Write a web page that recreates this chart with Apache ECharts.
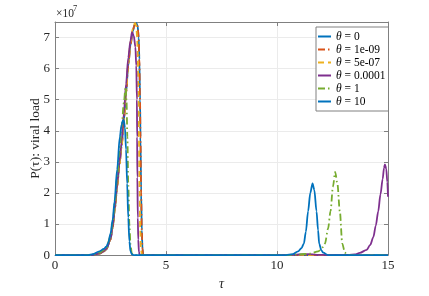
<!DOCTYPE html>
<html><head><meta charset="utf-8">
<script src="https://cdn.jsdelivr.net/npm/echarts@6/dist/echarts.min.js"></script>
<style>html,body{margin:0;padding:0;background:#fff}#c{width:429px;height:296px}</style>
</head><body><div id="c"></div>
<script>
// values in units of 1e7
const SCALE = 1e7;
const xTicks = [0, 5, 10, 15];
const yTickLabels = [0, 1, 2, 3, 4, 5, 6, 7];
const seriesNames = ['θ = 0', 'θ = 1e-09', 'θ = 5e-07', 'θ = 0.0001', 'θ = 1', 'θ = 10'];
const seriesColors = ['#0072BD', '#D95319', '#EDB120', '#7E2F8E', '#77AC30', '#0072BD'];

const theta0 = [[0,0],[1.5,0],[1.8,0.02],[2.0,0.05],[2.2,0.12],[2.31,0.18],[2.5,0.5],[2.6,0.9],[2.7,1.5],[2.8,2.2],[2.9,2.9],[3.0,3.5],[3.1,4.3],[3.2,5.2],[3.3,6.1],[3.4,6.75],[3.5,7.2],[3.58,7.4],[3.66,7.47],[3.72,7.38],[3.77,7.0],[3.80,6.3],[3.83,5.0],[3.85,3.8],[3.88,2.0],[3.91,0.8],[3.94,0.2],[3.97,0.03],[4.0,0],[15,0]];
const theta1em9 = [[0,0],[1.5,0],[1.8,0.02],[2.0,0.05],[2.2,0.12],[2.31,0.18],[2.5,0.5],[2.6,0.9],[2.7,1.5],[2.8,2.2],[2.9,2.9],[3.0,3.5],[3.1,4.3],[3.2,5.2],[3.3,6.1],[3.4,6.75],[3.5,7.2],[3.58,7.4],[3.66,7.47],[3.72,7.38],[3.77,7.0],[3.80,6.3],[3.83,5.0],[3.85,3.8],[3.88,2.0],[3.91,0.8],[3.94,0.2],[3.97,0.03],[4.0,0],[15,0]];
const theta5em7 = [[0,0],[1.5,0],[1.8,0.02],[2.0,0.05],[2.2,0.12],[2.31,0.18],[2.5,0.5],[2.6,0.9],[2.7,1.5],[2.8,2.2],[2.9,2.9],[3.0,3.5],[3.1,4.3],[3.2,5.25],[3.3,6.15],[3.4,6.85],[3.5,7.28],[3.57,7.43],[3.61,7.46],[3.66,7.38],[3.70,7.0],[3.73,6.3],[3.76,5.0],[3.78,3.8],[3.81,2.0],[3.84,0.8],[3.87,0.2],[3.91,0.03],[3.95,0],[15,0]];
const theta1em4 = [[0,0],[1.5,0],[1.8,0.02],[2.0,0.06],[2.2,0.14],[2.31,0.2],[2.5,0.52],[2.6,0.95],[2.7,1.6],[2.8,2.3],[2.9,3.0],[3.0,3.65],[3.1,4.55],[3.2,5.5],[3.3,6.35],[3.4,6.9],[3.47,7.17],[3.55,7.05],[3.62,6.7],[3.66,6.1],[3.69,5.0],[3.70,3.8],[3.71,2.5],[3.73,1.2],[3.75,0.5],[3.78,0.1],[3.82,0],[10.5,0],[11.0,0.02],[11.4,0.03],[11.8,0.01],[12.3,0],[13.0,0],[13.5,0.02],[13.73,0.07],[14.04,0.17],[14.2,0.33],[14.34,0.58],[14.45,0.95],[14.56,1.41],[14.66,1.95],[14.76,2.45],[14.82,2.8],[14.86,2.92],[14.92,2.78],[14.97,2.35],[15.0,1.88]];
const theta1 = [[0,0],[1.5,0],[1.8,0.02],[2.0,0.08],[2.2,0.17],[2.31,0.23],[2.5,0.6],[2.6,1.05],[2.7,1.7],[2.8,2.5],[2.9,3.3],[3.0,4.1],[3.1,4.9],[3.18,5.41],[3.22,5.0],[3.26,3.8],[3.3,2.3],[3.35,1.0],[3.4,0.35],[3.46,0.05],[3.55,0],[10.5,0],[11.0,0.02],[11.5,0.05],[11.86,0.12],[12.05,0.25],[12.16,0.37],[12.3,0.85],[12.41,1.41],[12.52,2.2],[12.62,2.68],[12.72,2.3],[12.83,1.41],[12.94,0.37],[13.06,0.08],[13.15,0.02],[13.3,0],[15,0]];
const theta10 = [[0,0],[1.5,0],[1.7,0.03],[2.0,0.12],[2.2,0.2],[2.31,0.27],[2.4,0.4],[2.5,0.69],[2.6,1.15],[2.68,1.72],[2.8,2.76],[2.92,3.8],[3.0,4.2],[3.06,4.33],[3.10,4.35],[3.15,4.1],[3.2,3.4],[3.25,2.3],[3.3,1.2],[3.35,0.45],[3.4,0.12],[3.47,0.02],[3.55,0],[10.4,0],[10.7,0.03],[10.95,0.12],[11.1,0.22],[11.21,0.37],[11.3,0.75],[11.4,1.41],[11.5,2.0],[11.6,2.31],[11.68,2.1],[11.78,1.41],[11.85,0.8],[11.9,0.37],[12.0,0.15],[12.08,0.08],[12.3,0],[15,0]];

const seriesData = [theta0, theta1em9, theta5em7, theta1em4, theta1, theta10];
const lineTypes = ['solid', [7,3,1.5,3], [6,4], 'solid', [7,3,1.5,3], 'solid'];

const FONT = 'Liberation Serif';
const AX = '#808080';
const chart = echarts.init(document.getElementById('c'));

const axisCommon = {
  type: 'value',
  axisLine: {show: true, onZero: false, lineStyle: {color: AX, width: 1}},
  axisTick: {show: true, inside: true, length: 4, lineStyle: {color: AX}},
};

chart.setOption({
  animation: false,
  backgroundColor: '#fff',
  grid: {left: 55, right: 41, top: 22, bottom: 34},
  graphic: [
    {type: 'text', left: 56, top: 8, style: {text: '×10', font: '11.5px "' + FONT + '"', fill: '#262626'}},
    {type: 'text', left: 73, top: 4, style: {text: '7', font: '8.5px "' + FONT + '"', fill: '#262626'}}
  ],
  legend: {
    orient: 'vertical', left: 316, top: 27,
    backgroundColor: '#fff', borderColor: AX, borderWidth: 1,
    padding: [3, 3, 3, 1], itemWidth: 13, itemHeight: 13, itemGap: 0,
    itemStyle: {opacity: 0},
    data: seriesNames,
    formatter: n => '{i|θ}' + n.slice(1),
    textStyle: {fontFamily: FONT, fontSize: 11.5, lineHeight: 13, color: '#000', rich: {i: {fontFamily: FONT, fontSize: 11.5, lineHeight: 13, fontStyle: 'italic'}}}
  },
  xAxis: [
    Object.assign({}, axisCommon, {
      position: 'bottom', min: xTicks[0], max: xTicks[xTicks.length - 1], interval: 5,
      axisLabel: {color: '#262626', fontFamily: FONT, fontSize: 13, margin: 4},
      splitLine: {show: true, lineStyle: {color: '#ebebeb'}},
      name: 'τ', nameLocation: 'middle', nameGap: 16,
      nameTextStyle: {fontFamily: FONT, fontSize: 14, fontStyle: 'italic', color: '#262626'}
    }),
    Object.assign({}, axisCommon, {
      position: 'top', min: 0, max: 15, interval: 5,
      axisLabel: {show: false}, splitLine: {show: false}
    })
  ],
  yAxis: [
    Object.assign({}, axisCommon, {
      position: 'left', min: 0, max: 7.5 * SCALE, interval: SCALE,
      axisLabel: {color: '#262626', fontFamily: FONT, fontSize: 13, margin: 5,
        formatter: v => { const k = Math.round(v / SCALE * 1000) / 1000; return yTickLabels.indexOf(k) >= 0 ? String(k) : ''; }},
      splitLine: {show: true, lineStyle: {color: '#ebebeb'}},
      name: 'P(τ): viral load', nameLocation: 'middle', nameGap: 13, nameMoveOverlap: false,
      nameTextStyle: {fontFamily: FONT, fontSize: 13.5, color: '#262626'}
    }),
    Object.assign({}, axisCommon, {
      position: 'right', min: 0, max: 7.5 * SCALE, interval: SCALE,
      axisLabel: {show: false}, splitLine: {show: false}
    })
  ],
  series: seriesNames.map((name, i) => ({
    name: name, type: 'line', xAxisIndex: 0, yAxisIndex: 0,
    data: seriesData[i].map(p => [p[0], p[1] * SCALE]),
    symbol: 'none', smooth: 0.3, smoothMonotone: 'x',
    lineStyle: {color: seriesColors[i], width: 1.8, type: lineTypes[i]},
    itemStyle: {color: seriesColors[i]},
    z: 2 + i
  }))
});
</script></body></html>
